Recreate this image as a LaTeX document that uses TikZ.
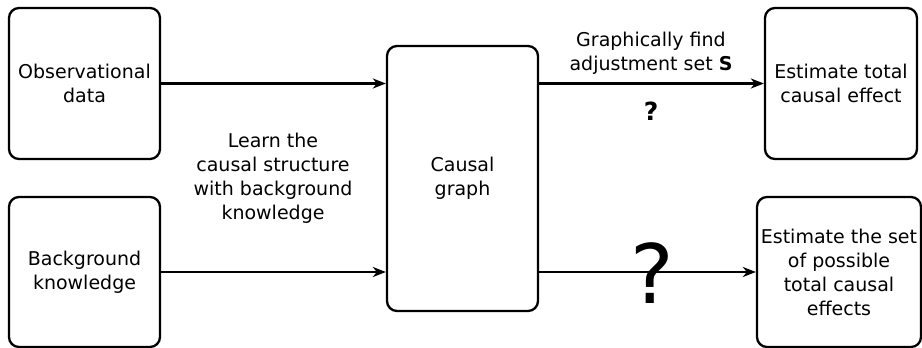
\documentclass[tikz,border=0pt]{standalone}
\usepackage{fontspec}
\setmainfont{DejaVu Sans}
\usetikzlibrary{arrows.meta}
\begin{document}
\begin{tikzpicture}[x=1pt,y=-1pt,
  box/.style={draw=black, line width=2.3pt, rounded corners=10pt, align=center, inner sep=0pt,
    font=\fontsize{19}{24}\selectfont},
  lbl/.style={align=center, inner sep=0pt, font=\fontsize{19}{24}\selectfont},
  conn/.style={line width=2.3pt, -{Stealth[length=13pt,width=10pt,inset=4pt]}}]
\useasboundingbox (0,0) rectangle (922,348);
\node[box, minimum width=151pt, minimum height=151pt] (obs) at (84.5,83.5) {Observational\\data};
\node[box, minimum width=151pt, minimum height=150pt] (bg) at (84.5,272) {Background\\knowledge};
\node[box, minimum width=151pt, minimum height=265pt] (cg) at (462.5,178.5) {Causal\\graph};
\node[box, minimum width=152pt, minimum height=151pt] (est) at (841,83.5) {Estimate total\\causal effect};
\node[box, minimum width=164pt, minimum height=150pt] (set) at (839,272) {Estimate the set\\of possible\\total causal\\effects};
\node[lbl] (learn) at (273,178) {Learn the\\causal structure\\with background\\knowledge};
\node[lbl] (graph) at (651,53) {Graphically find\\adjustment set \textbf{S}};
\draw[conn] (obs.east) -- (obs.east -| cg.west);
\draw[conn] (bg.east) -- (bg.east -| cg.west);
\draw[conn] (cg.east |- est.west) -- (est.west);
\draw[conn] (cg.east |- set.west) -- (set.west);
\node[anchor=base, inner sep=0pt, font=\fontsize{25}{30}\selectfont\bfseries] (q1) at (651,120) {?};
\node[anchor=base, inner sep=0pt, font=\fontsize{82}{90}\selectfont] (q2) at (652,303) {?};
\end{tikzpicture}
\end{document}
